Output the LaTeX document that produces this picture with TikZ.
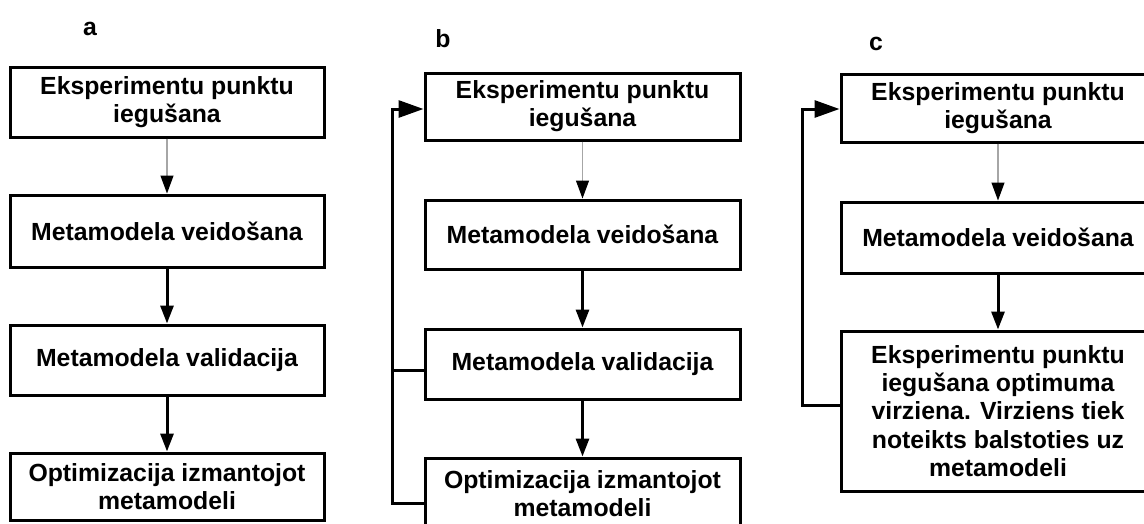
\documentclass[tikz,border=0pt]{standalone}
\usepackage{fontspec}
\setmainfont{Liberation Sans}
\usetikzlibrary{arrows.meta}
\begin{document}
\begin{tikzpicture}[x=1pt,y=-1pt,
  box/.style={draw=black, line width=3pt, minimum width=314pt, inner sep=0pt, align=center,
    font=\fontsize{24.8}{28.2}\selectfont\bfseries},
  thinarrow/.style={draw=gray!70, line width=1.2pt, -{Triangle[length=18pt,width=13pt,color=black]}},
  thickarrow/.style={line width=3pt, -{Triangle[length=18pt,width=13pt]}},
  fb/.style={line width=3pt, line join=miter},
  fbarrow/.style={line width=3pt, line join=miter, -{Triangle[length=25pt,width=17pt]}},
  lbl/.style={font=\fontsize{24.8}{28}\selectfont\bfseries, anchor=base, inner sep=0pt}]
\useasboundingbox (0,0) rectangle (1144,523);

% panel a
\node[lbl] (la) at (90,35) {a};
\node[box, minimum height=70pt] (a1) at (167,102) {Eksperimentu punktu\\iegušana};
\node[box, minimum height=72pt] (a2) at (167,231) {Metamodela veidošana};
\node[box, minimum height=70pt] (a3) at (167,360) {Metamodela validacija};
\node[box, minimum height=67pt] (a4) at (167,486.5) {Optimizacija izmantojot\\metamodeli};
\draw[thinarrow] (a1) -- (a2);
\draw[thickarrow] (a2) -- (a3);
\draw[thickarrow] (a3) -- (a4);

% panel b
\node[lbl] (lb) at (443,47) {b};
\node[box, minimum height=67pt, minimum width=315pt] (b1) at (582.5,106.5) {Eksperimentu punktu\\iegušana};
\node[box, minimum height=69pt, minimum width=315pt] (b2) at (582.5,234.5) {Metamodela veidošana};
\node[box, minimum height=70pt, minimum width=315pt] (b3) at (582.5,364) {Metamodela validacija};
\node[box, minimum height=72pt, minimum width=315pt] (b4) at (582.5,494) {Optimizacija izmantojot\\metamodeli};
\draw[thinarrow] (b1) -- (b2);
\draw[thickarrow] (b2) -- (b3);
\draw[thickarrow] (b3) -- (b4);
\coordinate (bturn) at (392,109);
\draw[fbarrow] (b4.west |- 0,503) -| (bturn) -- (b1.west |- bturn);
\draw[fb] (b3.west |- 0,370) -- (bturn |- 0,370);

% panel c
\node[lbl] (lc) at (876,50) {c};
\node[box, minimum height=68pt] (c1) at (998,108) {Eksperimentu punktu\\iegušana};
\node[box, minimum height=71pt] (c2) at (998,237.5) {Metamodela veidošana};
\node[box, minimum height=160pt] (c3) at (998,411) {Eksperimentu punktu\\iegušana optimuma\\virziena. Virziens tiek\\noteikts balstoties uz\\metamodeli};
\draw[thinarrow] (c1) -- (c2);
\draw[thickarrow] (c2) -- (c3);
\coordinate (cturn) at (802,109);
\draw[fbarrow] (c3.west |- 0,405) -| (cturn) -- (c1.west |- cturn);
\end{tikzpicture}
\end{document}
